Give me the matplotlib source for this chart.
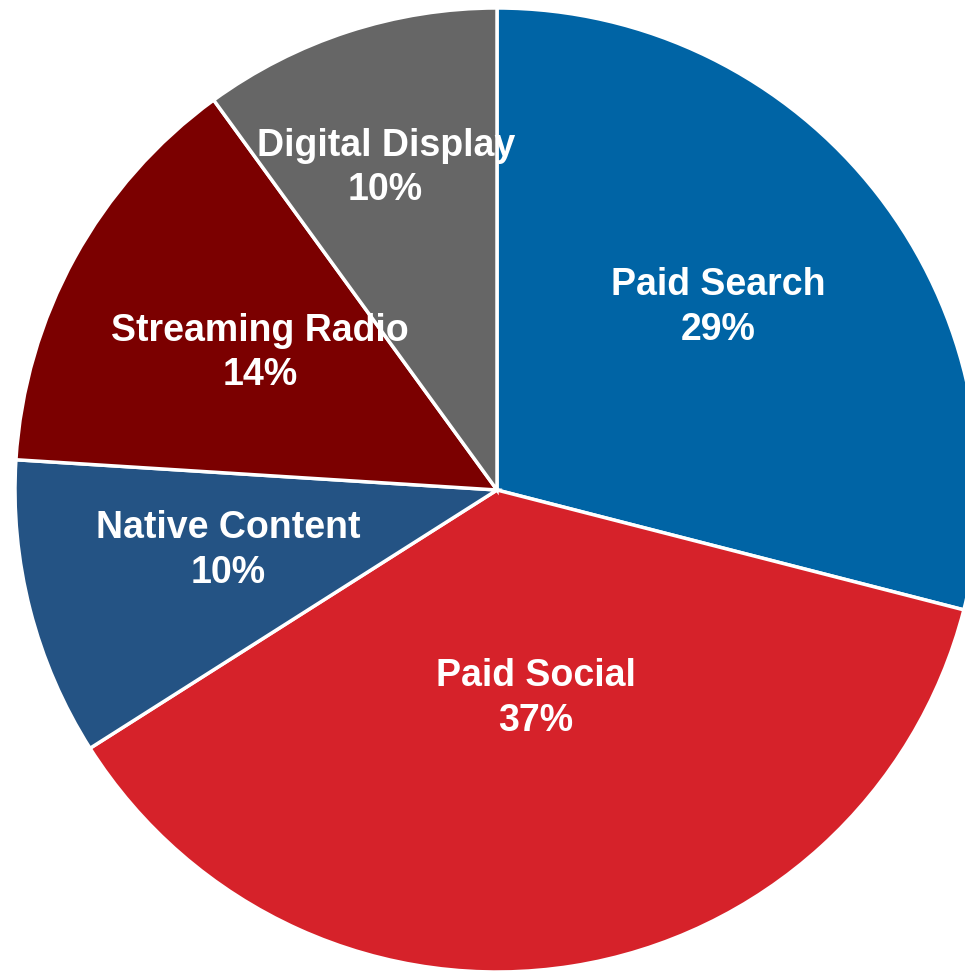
import numpy as np
import matplotlib
matplotlib.use("Agg")
import matplotlib.pyplot as plt

# data
categories = ['Paid Search', 'Paid Social', 'Native Content', 'Streaming Radio', 'Digital Display']
shares = [29, 37, 10, 14, 10]
colors = ['#0064A5', '#D6222A', '#245384', '#7B0000', '#666666']
# label placement (fraction of radius, angle nudge in degrees)
label_dist = [0.599, 0.433, 0.570, 0.571, 0.713]
label_shift = [2.3, 1.8, -2.4, -1.8, 0.9]

fig = plt.figure(figsize=(9.65, 9.72), dpi=100)
ax = fig.add_axes([0, 0, 1, 1])

wedges, _ = ax.pie(shares, colors=colors, startangle=90, counterclock=False,
                   radius=1.0, wedgeprops=dict(edgecolor='white', linewidth=2.5))

# labels inside slices
total = sum(shares)
start = 90.0
for name, val, d, sh in zip(categories, shares, label_dist, label_shift):
    span = val / total * 360
    mid = np.deg2rad(start - span / 2 + sh)
    start -= span
    ax.text(d * np.cos(mid), d * np.sin(mid) - 0.007, f'{name}\n{val}%',
            ha='center', va='center', color='white', fontsize=27,
            fontweight='bold', family=['Liberation Sans', 'DejaVu Sans'],
            linespacing=1.3)

ax.set_xlim(-497 / 482, (965 - 497) / 482)
ax.set_ylim(-(972 - 490) / 482, 490 / 482)
ax.set_aspect('auto')
ax.axis('off')

fig.savefig('out.png', dpi=100, facecolor='white')
